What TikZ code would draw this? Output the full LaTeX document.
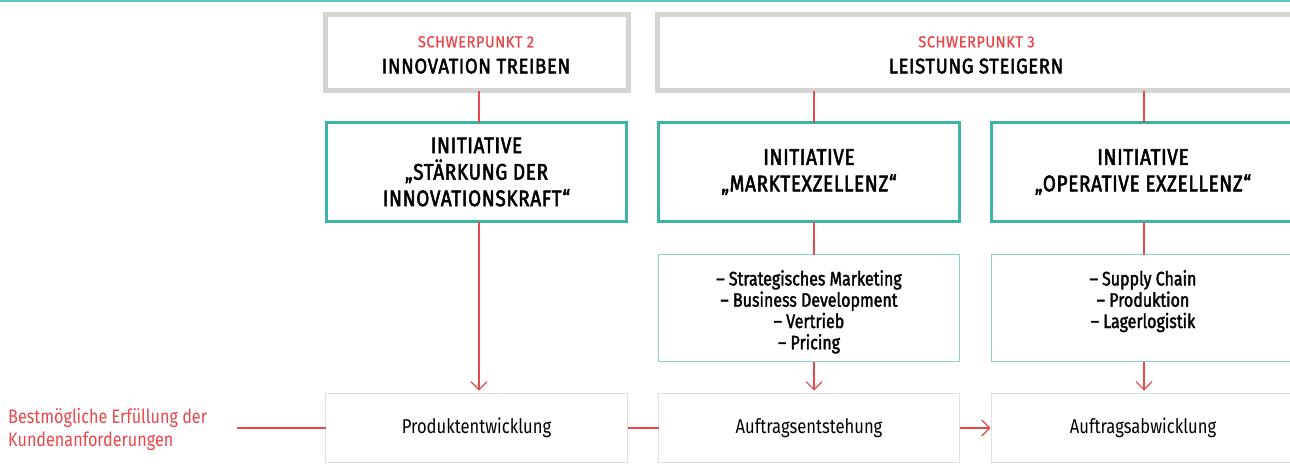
\documentclass[tikz,border=0pt]{standalone}
\usepackage{fontspec}
\setmainfont[FakeStretch=0.83]{Fira Sans}
\newfontfamily\fsp[FakeStretch=0.92,FakeBold=0.8,LetterSpace=3]{Fira Sans}
\newfontfamily\fhead[FakeStretch=0.88,FakeBold=2.2,LetterSpace=3]{Fira Sans}
\newfontfamily\finit[FakeStretch=0.84,FakeBold=2.4,LetterSpace=3]{Fira Sans}
\newfontfamily\flist[FakeStretch=0.82,FakeBold=1.8]{Fira Sans}
\usetikzlibrary{arrows.meta}
\definecolor{tealA}{HTML}{3DB5A6}
\definecolor{tealB}{HTML}{8CD2CA}
\definecolor{tealTop}{HTML}{5EC4B8}
\definecolor{redA}{HTML}{E8474C}
\definecolor{grayA}{HTML}{D4D4D4}
\definecolor{grayB}{HTML}{E0E0E0}
\tikzset{
  spbox/.style={draw=grayA, line width=5pt, inner sep=0pt, outer sep=0pt, minimum height=76pt},
  sptitle/.style={anchor=base, inner sep=0pt, text=redA, font=\fsp\fontsize{16}{18}\selectfont},
  sphead/.style={anchor=base, inner sep=0pt, font=\fhead\fontsize{21}{24}\selectfont},
  initbox/.style={draw=tealA, line width=3pt, inner sep=0pt, outer sep=0pt, minimum height=99pt, align=center, font=\finit\fontsize{22.5}{26.5}\selectfont},
  listbox/.style={draw=tealB, line width=1.4pt, inner sep=0pt, outer sep=0pt, minimum height=107pt},
  listtext/.style={align=center, inner sep=0pt, anchor=north, font=\flist\fontsize{19.5}{21.3}\selectfont},
  procbox/.style={draw=grayB, line width=1.5pt, inner sep=0pt, outer sep=0pt, minimum height=69pt, font=\fontsize{20}{22}\selectfont},
  conn/.style={draw=redA, line width=1.1pt},
  arr/.style={conn, -{Straight Barb[length=8pt,width=16pt,line width=1.1pt]}, shorten >=3pt},
}
\begin{document}
\begin{tikzpicture}[x=1pt,y=-1pt]
\useasboundingbox (0,0) rectangle (1290,472);
\clip (0,0) rectangle (1290,472);
\fill[white] (0,0) rectangle (1290,472);
% top line
\coordinate (tl) at (0,1);
\coordinate (tr) at (1290,1);
\draw[tealTop, line width=2pt] (tl) -- (tr);

% Schwerpunkt boxes
\node[spbox, minimum width=303pt] (sp2) at (477,52.5) {};
\node[sptitle] (sp2a) at (476,47.3) {SCHWERPUNKT 2};
\node[sphead] (sp2b) at (476,73.3) {INNOVATION TREIBEN};
\node[spbox, minimum width=637pt] (sp3) at (976,52.5) {};
\node[sptitle] (sp3a) at (976.5,47.3) {SCHWERPUNKT 3};
\node[sphead] (sp3b) at (976,73.3) {LEISTUNG STEIGERN};

% Initiatives
\node[initbox, minimum width=300pt] (in1) at (476.5,172)
  {INITIATIVE\\„STÄRKUNG DER\\INNOVATIONSKRAFT“};
\node[initbox, minimum width=301pt] (in2) at (809,172)
  {INITIATIVE\\„MARKTEXZELLENZ“};
\node[initbox, minimum width=303pt] (in3) at (1143,172)
  {INITIATIVE\\„OPERATIVE EXZELLENZ“};

% Lists
\node[listbox, minimum width=301pt] (l2) at (809,308) {};
\node[listbox, minimum width=303pt] (l3) at (1143,308) {};
\node[listtext] (l2t) at (809,270)
  {– Strategisches Marketing\\– Business Development\\– Vertrieb\\– Pricing};
\node[listtext] (l3t) at (1143,270)
  {– Supply Chain\\– Produktion\\– Lagerlogistik};

% Process boxes
\node[procbox, minimum width=302pt] (p1) at (476.5,428) {Produktentwicklung};
\node[procbox, minimum width=301pt] (p2) at (809,428) {Auftragsentstehung};
\node[procbox, minimum width=303pt] (p3) at (1143,428) {Auftragsabwicklung};

% left label
\node[anchor=west, align=left, inner sep=0pt, text=redA, font=\fontsize{19.5}{23}\selectfont] (goal) at (8,429)
  {Bestmögliche Erfüllung der\\Kundenanforderungen};
\coordinate (gl) at (237,428);

% connector x-positions
\coordinate (x1) at (479,0);
\coordinate (x2) at (814,0);
\coordinate (x3) at (1144,0);

\draw[conn] (sp2.south -| x1) -- (in1.north -| x1);
\draw[conn] (sp3.south -| x2) -- (in2.north -| x2);
\draw[conn] (sp3.south -| x3) -- (in3.north -| x3);

\draw[arr] (in1.south -| x1) -- (p1.north -| x1);
\draw[conn] (in2.south -| x2) -- (l2.north -| x2);
\draw[conn] (in3.south -| x3) -- (l3.north -| x3);
\draw[arr] (l2.south -| x2) -- (p2.north -| x2);
\draw[arr] (l3.south -| x3) -- (p3.north -| x3);

\draw[conn] (gl) -- (gl -| p1.west);
\draw[conn] (p1.east) -- (p2.west);
\draw[arr, shorten >=1pt] (p2.east) -- (p3.west);
\end{tikzpicture}
\end{document}
